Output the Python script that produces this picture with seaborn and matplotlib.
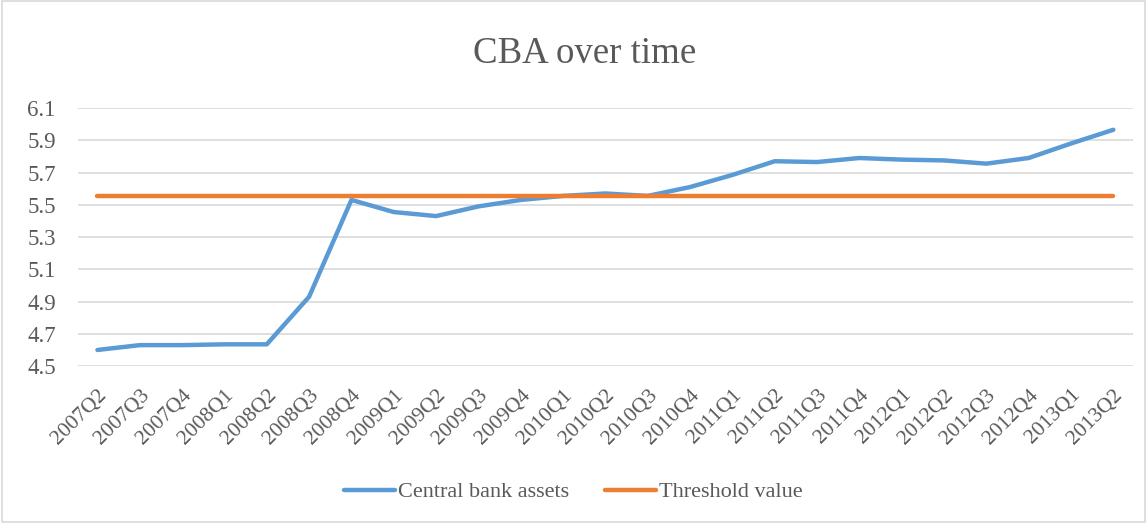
import matplotlib
matplotlib.use("Agg")
import matplotlib.pyplot as plt
import seaborn as sns
import pandas as pd
from matplotlib.patches import Rectangle

quarters = ["2007Q2", "2007Q3", "2007Q4", "2008Q1", "2008Q2", "2008Q3", "2008Q4",
            "2009Q1", "2009Q2", "2009Q3", "2009Q4", "2010Q1", "2010Q2", "2010Q3",
            "2010Q4", "2011Q1", "2011Q2", "2011Q3", "2011Q4", "2012Q1", "2012Q2",
            "2012Q3", "2012Q4", "2013Q1", "2013Q2"]
cba = [4.60, 4.63, 4.63, 4.635, 4.635, 4.93, 5.53, 5.455, 5.43, 5.49, 5.53, 5.555,
       5.57, 5.555, 5.61, 5.685, 5.77, 5.765, 5.79, 5.78, 5.775, 5.755, 5.79, 5.88, 5.965]
threshold = [5.556] * len(quarters)
yticks = [4.5, 4.7, 4.9, 5.1, 5.3, 5.5, 5.7, 5.9, 6.1]

sns.set_theme(style="white")
plt.rcParams['font.family'] = ['Liberation Serif', 'DejaVu Serif']

df = pd.DataFrame({
    "idx": list(range(len(quarters))) * 2,
    "value": cba + threshold,
    "series": ["Central bank assets"] * len(quarters) + ["Threshold value"] * len(quarters),
})

fig = plt.figure(figsize=(11.47, 5.23), dpi=100)
ax = fig.add_axes([0.068, 0.300, 0.920, 0.4935])
sns.lineplot(data=df, x="idx", y="value", hue="series",
             palette={"Central bank assets": "#5B9BD5", "Threshold value": "#ED7D31"},
             linewidth=3.2, ax=ax, legend=True, solid_capstyle="round")

ax.set_xlim(-0.46, 24.47)
ax.set_ylim(4.5, 6.1)
ax.set_yticks(yticks)
ax.set_yticklabels([f"{v:.1f}" for v in yticks], fontsize=16.5, color="#595959")
ax.set_xticks(range(len(quarters)))
ax.set_xticklabels(quarters, rotation=45, ha="right", rotation_mode="anchor",
                   fontsize=15.5, color="#595959")
ax.tick_params(axis="y", length=0, pad=16)
ax.tick_params(axis="x", length=0, pad=14)
ax.grid(axis="y", color="#D9D9D9", linewidth=1.2)
ax.set_axisbelow(True)
for s in ax.spines.values():
    s.set_visible(False)
ax.set_xlabel("")
ax.set_ylabel("")

ax.legend(loc="center", bbox_to_anchor=(0.5, (523 - 492) / 523), bbox_transform=fig.transFigure,
          ncol=2, frameon=False, fontsize=16, labelcolor="#595959", handlelength=2.3,
          handletextpad=0.15, columnspacing=1.6)

fig.text(0.51, 1 - 54 / 523, "CBA over time", ha="center", va="center",
         fontsize=26.6, color="#595959")

fig.patches.append(Rectangle((0.002, 0.002), 0.996, 0.996, transform=fig.transFigure,
                             fill=False, edgecolor="#D9D9D9", linewidth=1.2))

fig.savefig("out.png", dpi=100)
